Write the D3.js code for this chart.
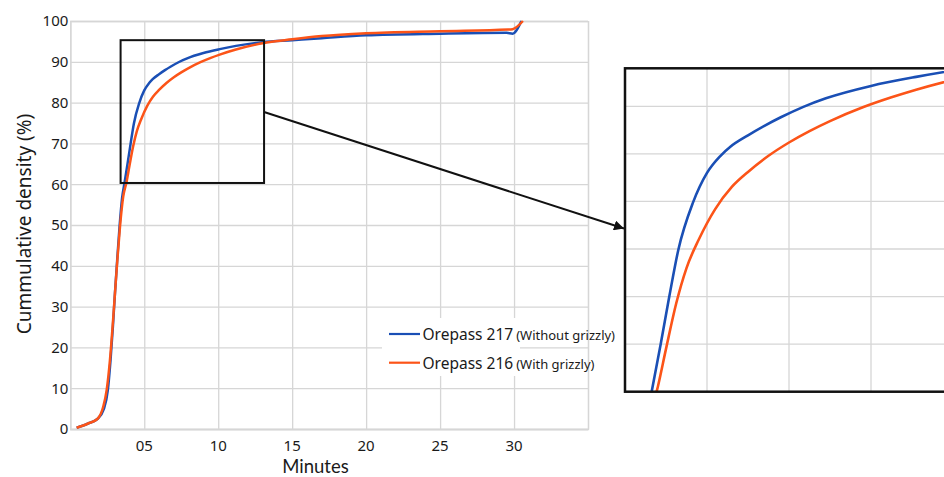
<!DOCTYPE html>
<html><head><meta charset="utf-8">
<script src="https://cdn.jsdelivr.net/npm/d3@7"></script>
<style>
body{margin:0;background:#fff}
svg{display:block}
text{font-family:"Noto Sans",sans-serif;fill:#1a1a1a}
</style>
</head><body><svg id="c" width="944" height="477"></svg>
<script>
// ---- data ----
const seriesNames = ["Orepass 217", "Orepass 216"];
const seriesNotes = ["(Without grizzly)", "(With grizzly)"];
const seriesColors = ["#1a4fb5", "#fc5418"];

const minutes217 = [0.43, 1.2, 1.83, 2.28, 2.54, 2.72, 2.88, 3.02, 3.17, 3.33, 3.5, 3.65, 3.87, 4.08, 4.3, 4.66, 5.0, 5.33, 5.57, 6.0, 6.4, 6.8, 7.35, 7.9, 9.0, 10.1, 11.2, 13.0, 15.0, 17.0, 20.0, 25.0, 29.5, 29.9, 30.5];
const density217 = [0.3, 1.35, 2.45, 5.0, 9.6, 16.9, 25.1, 33.3, 41.4, 49.6, 56.6, 60.0, 65.0, 70.0, 74.9, 79.9, 83.0, 84.8, 85.75, 86.95, 87.95, 88.85, 89.95, 90.85, 92.15, 93.1, 93.9, 94.8, 95.3, 95.8, 96.5, 96.9, 97.1, 96.9, 100];

const minutes216 = [0.43, 1.2, 1.83, 2.23, 2.46, 2.68, 2.86, 3.02, 3.18, 3.36, 3.58, 3.8, 4.0, 4.25, 4.5, 4.8, 5.2, 5.6, 6.0, 6.5, 7.0, 7.5, 8.0, 8.8, 9.5, 10.1, 11.2, 13.0, 15.0, 17.0, 20.0, 25.0, 29.6, 29.9, 30.6];
const density216 = [0.3, 1.35, 2.45, 5.5, 9.6, 16.9, 25.1, 33.3, 41.4, 49.6, 57.0, 60.5, 64.5, 69.3, 73.0, 76.0, 79.2, 81.5, 83.1, 84.8, 86.2, 87.4, 88.45, 89.9, 90.95, 91.75, 93.0, 94.55, 95.5, 96.3, 97.0, 97.5, 97.9, 98.0, 100];

const xTicks = [5, 10, 15, 20, 25, 30];
const xTickLabels = ["05", "10", "15", "20", "25", "30"];
const yTicks = [0, 10, 20, 30, 40, 50, 60, 70, 80, 90, 100];
const xDomain = [0, 35];
const yDomain = [0, 100];

// zoomed region marked on main chart, and inset domain
const zoomBoxX = [3.4, 13.1];
const zoomBoxY = [60.3, 95.3];
const insetXDomain = [3, 11];
const insetYDomain = [60, 94];
const insetXTicks = [5, 7, 9];
const insetYTicks = [65, 70, 75, 80, 85, 90];

const xTitle = "Minutes";
const yTitle = "Cummulative density (%)";

// ---- drawing ----
const svg = d3.select("#c");
const grid = "#d6d6d6";

const x = d3.scaleLinear(xDomain, [70.3, 588]);
const y = d3.scaleLinear(yDomain, [429, 21]);

const series = [
  {name: seriesNames[0], note: seriesNotes[0], color: seriesColors[0], pts: minutes217.map((m, i) => [m, density217[i]])},
  {name: seriesNames[1], note: seriesNotes[1], color: seriesColors[1], pts: minutes216.map((m, i) => [m, density216[i]])}
];

// gridlines
const gx = svg.append("g").attr("transform", `translate(0,${y(0)})`)
  .call(d3.axisBottom(x).tickValues([...xTicks, 35]).tickSize(-(y(0) - y(100))).tickFormat(""));
gx.select(".domain").attr("stroke", grid).attr("stroke-width", 1.3);
gx.selectAll(".tick line").attr("stroke", grid).attr("stroke-width", 1.3);

const gy = svg.append("g").attr("transform", `translate(${x(0)},0)`)
  .call(d3.axisLeft(y).tickValues(yTicks).tickSize(-(x(35) - x(0))).tickPadding(4).tickFormat(d3.format("d")));
gy.select(".domain").attr("stroke", grid).attr("stroke-width", 1.3);
gy.selectAll(".tick line").attr("stroke", grid).attr("stroke-width", 1.3);
gy.selectAll(".tick text").attr("font-size", 15).attr("font-family", "Noto Sans").attr("fill", "#1a1a1a").attr("dx", 2);

// x tick labels
svg.append("g").selectAll("text").data(xTicks).join("text")
  .attr("x", d => x(d)).attr("y", 450.5).attr("text-anchor", "middle").attr("font-size", 15)
  .text((d, i) => xTickLabels[i]);

// titles
svg.append("text").attr("x", 315.5).attr("y", 473).attr("text-anchor", "middle")
  .style("font-family", "Lato, 'Noto Sans', sans-serif").attr("font-size", 18.5).text(xTitle);
svg.append("text").attr("transform", "translate(31,224) rotate(-90)").attr("text-anchor", "middle").attr("font-size", 19).text(yTitle);

// lines
svg.append("clipPath").attr("id", "mainClip").append("rect")
  .attr("x", x(0)).attr("y", y(100) - 2).attr("width", x(35) - x(0)).attr("height", y(0) - y(100) + 4);
const line = d3.line().x(d => x(d[0])).y(d => y(d[1])).curve(d3.curveMonotoneX);
svg.append("g").attr("clip-path", "url(#mainClip)").selectAll("path").data(series).join("path")
  .attr("d", d => line(d.pts)).attr("fill", "none").attr("stroke", d => d.color).attr("stroke-width", 2.5)
  .attr("stroke-linejoin", "round");

// legend
svg.append("rect").attr("x", 382).attr("y", 318).attr("width", 138).attr("height", 58).attr("fill", "#fff");
const lg = svg.append("g").selectAll("g").data(series).join("g")
  .attr("transform", (d, i) => `translate(389,${334 + i * 28.7})`);
lg.append("line").attr("x1", 0).attr("x2", 31).attr("stroke", d => d.color).attr("stroke-width", 2.2);
const lt = lg.append("text").attr("x", 33.5).attr("y", 6).attr("font-size", 15.5);
lt.append("tspan").text(d => d.name);
lt.append("tspan").attr("dx", 3).attr("font-size", 13).text(d => d.note);

// zoom box + arrow
svg.append("rect").attr("x", x(zoomBoxX[0])).attr("y", y(zoomBoxY[1]))
  .attr("width", x(zoomBoxX[1]) - x(zoomBoxX[0])).attr("height", y(zoomBoxY[0]) - y(zoomBoxY[1]))
  .attr("fill", "none").attr("stroke", "#111").attr("stroke-width", 2);

svg.append("defs").append("marker").attr("id", "arr").attr("viewBox", "0 0 10 10")
  .attr("refX", 10).attr("refY", 5).attr("markerWidth", 5).attr("markerHeight", 5)
  .attr("markerUnits", "strokeWidth").attr("orient", "auto")
  .append("path").attr("d", "M0,0L10,5L0,10z").attr("fill", "#111");

// inset
const xi = d3.scaleLinear(insetXDomain, [625, 953]);
const yi = d3.scaleLinear(insetYDomain, [391.7, 68.3]);

svg.append("line").attr("x1", x(zoomBoxX[1])).attr("y1", 112).attr("x2", xi(insetXDomain[0]) - 1).attr("y2", 228.5)
  .attr("stroke", "#111").attr("stroke-width", 2).attr("marker-end", "url(#arr)");

const ins = svg.append("g");
ins.append("rect").attr("x", xi(insetXDomain[0])).attr("y", yi(insetYDomain[1]))
  .attr("width", xi(insetXDomain[1]) - xi(insetXDomain[0])).attr("height", yi(insetYDomain[0]) - yi(insetYDomain[1]))
  .attr("fill", "#fff");
ins.append("g").selectAll("line").data(insetXTicks).join("line")
  .attr("x1", d => xi(d)).attr("x2", d => xi(d)).attr("y1", yi(insetYDomain[0])).attr("y2", yi(insetYDomain[1]))
  .attr("stroke", grid).attr("stroke-width", 1.3);
ins.append("g").selectAll("line").data(insetYTicks).join("line")
  .attr("y1", d => yi(d)).attr("y2", d => yi(d)).attr("x1", xi(insetXDomain[0])).attr("x2", xi(insetXDomain[1]))
  .attr("stroke", grid).attr("stroke-width", 1.3);
svg.append("clipPath").attr("id", "insClip").append("rect")
  .attr("x", xi(insetXDomain[0])).attr("y", yi(insetYDomain[1]))
  .attr("width", xi(insetXDomain[1]) - xi(insetXDomain[0])).attr("height", yi(insetYDomain[0]) - yi(insetYDomain[1]));
const iline = d3.line().x(d => xi(d[0])).y(d => yi(d[1])).curve(d3.curveMonotoneX);
ins.append("g").attr("clip-path", "url(#insClip)").selectAll("path").data(series).join("path")
  .attr("d", d => iline(d.pts)).attr("fill", "none").attr("stroke", d => d.color).attr("stroke-width", 2.6)
  .attr("stroke-linejoin", "round");
ins.append("rect").attr("x", xi(insetXDomain[0])).attr("y", yi(insetYDomain[1]))
  .attr("width", xi(insetXDomain[1]) - xi(insetXDomain[0])).attr("height", yi(insetYDomain[0]) - yi(insetYDomain[1]))
  .attr("fill", "none").attr("stroke", "#111").attr("stroke-width", 2.5);
</script>
</body></html>
